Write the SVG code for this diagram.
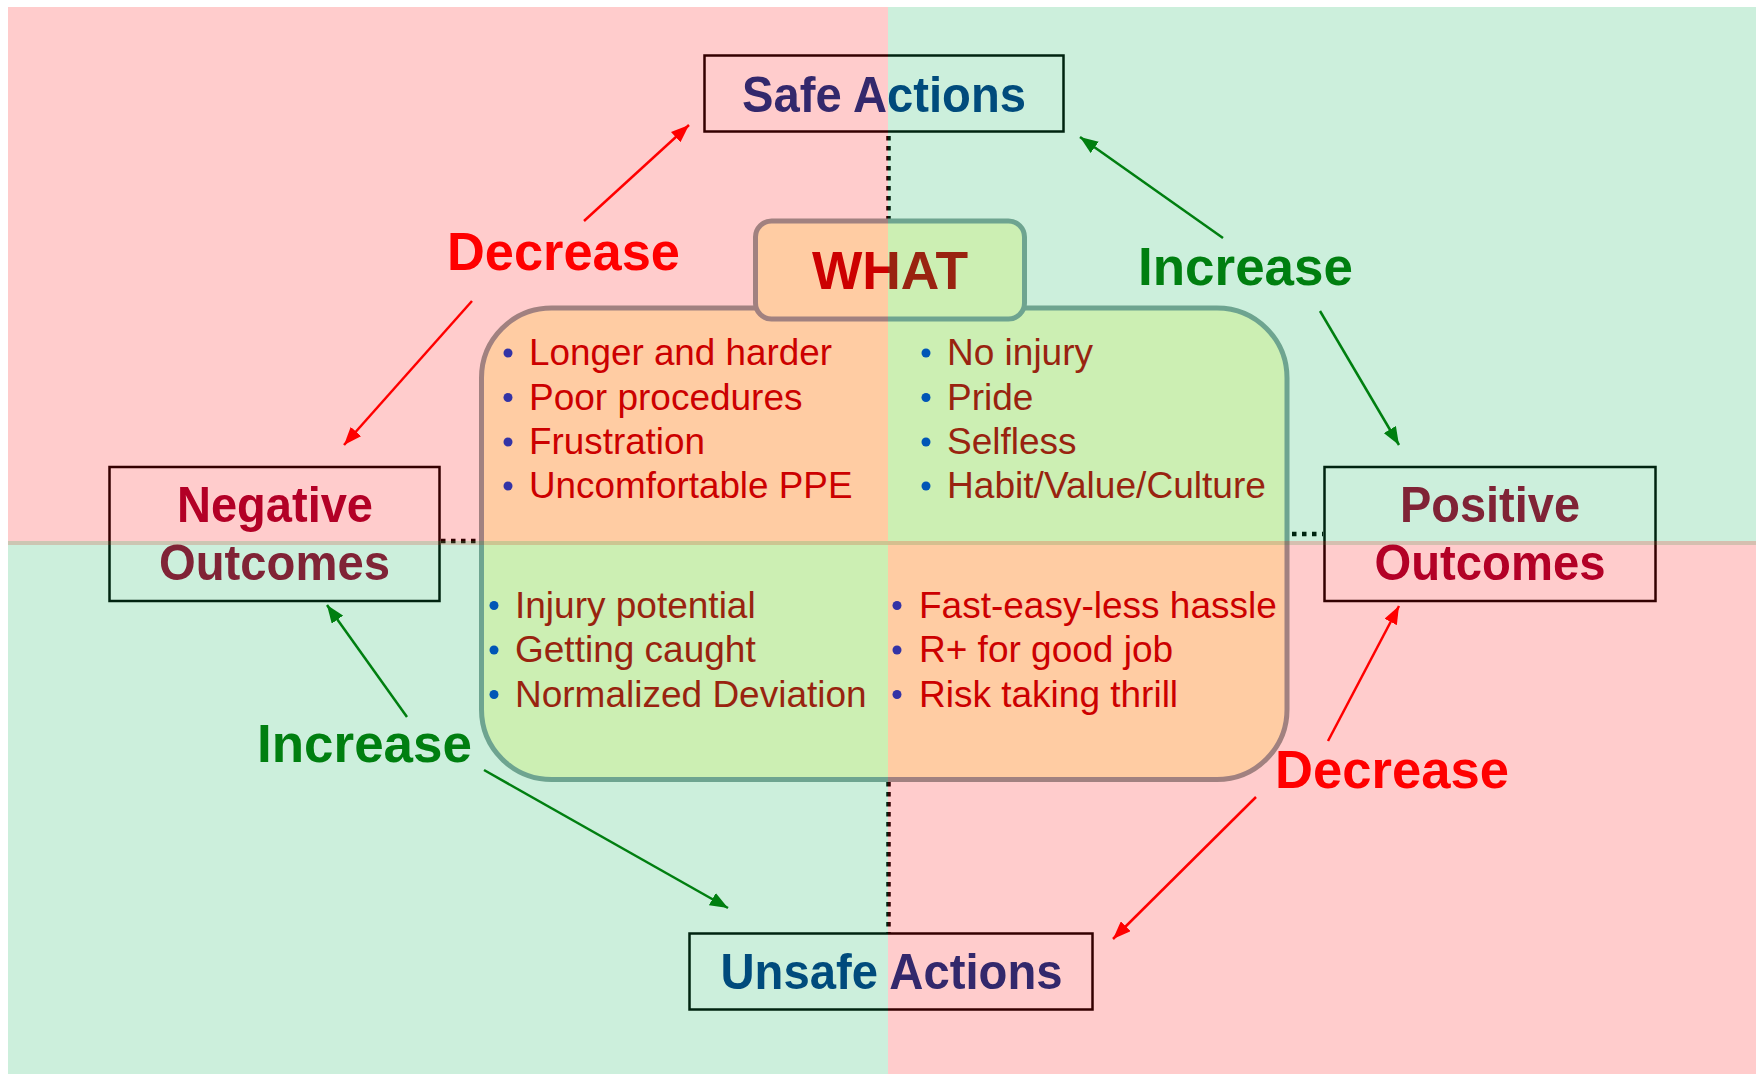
<svg xmlns="http://www.w3.org/2000/svg" width="1756" height="1074" viewBox="0 0 1756 1074">
<defs>
<style>
.lbl{font-family:"Liberation Sans",Arial,sans-serif;font-weight:bold;font-size:50px;text-anchor:middle}
.node{fill:#003388}
.out{fill:#A00030}
.box{fill:none;stroke:#000;stroke-width:2.5}
.blt{font-family:"Liberation Sans",Arial,sans-serif;font-size:37px;fill:#C00000}
.dot{fill:#0040D0}
.verb{font-family:"Liberation Sans",Arial,sans-serif;font-weight:bold;font-size:53px}
.dec{fill:#FF0000}
.inc{fill:#007300}
.ar{stroke-width:2.5;fill:none}
.ared{stroke:#FF0000}
.agrn{stroke:#007300}
.dots{stroke:#000;stroke-width:4.5;stroke-dasharray:4.5 5.5;fill:none}
.panel{fill:#FFFFCC;stroke:#8AA2A0;stroke-width:5}
.ov{pointer-events:none}
</style>
<marker id="mr" markerUnits="userSpaceOnUse" markerWidth="20" markerHeight="14" refX="18" refY="7" orient="auto"><path d="M0,0 L18,7 L0,14 Z" fill="#FF0000"/></marker>
<marker id="mg" markerUnits="userSpaceOnUse" markerWidth="20" markerHeight="14" refX="18" refY="7" orient="auto"><path d="M0,0 L18,7 L0,14 Z" fill="#007300"/></marker>
</defs>
<rect x="0" y="0" width="1756" height="1074" fill="#FFFFFF"/>

<g id="connectors">
<line class="dots" x1="888.5" y1="136" x2="888.5" y2="219"/>
<line class="dots" x1="888.5" y1="782" x2="888.5" y2="933"/>
<line class="dots" x1="441" y1="541" x2="479" y2="541"/>
<line class="dots" x1="1292" y1="534" x2="1323" y2="534"/>
<line class="ar ared" x1="584" y1="221" x2="689" y2="125" marker-end="url(#mr)"/>
<line class="ar ared" x1="472" y1="301" x2="344" y2="445" marker-end="url(#mr)"/>
<line class="ar agrn" x1="1223" y1="238" x2="1080" y2="137" marker-end="url(#mg)"/>
<line class="ar agrn" x1="1320" y1="311" x2="1399" y2="445" marker-end="url(#mg)"/>
<line class="ar agrn" x1="407" y1="717" x2="327" y2="605" marker-end="url(#mg)"/>
<line class="ar agrn" x1="484" y1="770" x2="728" y2="908" marker-end="url(#mg)"/>
<line class="ar ared" x1="1328" y1="741" x2="1399" y2="606" marker-end="url(#mr)"/>
<line class="ar ared" x1="1256" y1="797" x2="1113" y2="939" marker-end="url(#mr)"/>
<text class="verb dec" x="447" y="270" textLength="233" lengthAdjust="spacingAndGlyphs">Decrease</text>
<text class="verb inc" x="1138" y="285" textLength="215" lengthAdjust="spacingAndGlyphs">Increase</text>
<text class="verb inc" x="257" y="762" textLength="215" lengthAdjust="spacingAndGlyphs">Increase</text>
<text class="verb dec" x="1275" y="788" textLength="234" lengthAdjust="spacingAndGlyphs">Decrease</text>
</g>

<g id="what-panel">
<rect class="panel" x="481.5" y="308" width="805.5" height="471.5" rx="70" ry="70"/>
<g id="what-negative-of-safe">
<circle class="dot" cx="508" cy="353" r="4.5"/>
<circle class="dot" cx="508" cy="397.5" r="4.5"/>
<circle class="dot" cx="508" cy="442" r="4.5"/>
<circle class="dot" cx="508" cy="486" r="4.5"/>
<text class="blt" x="529" y="365" textLength="303" lengthAdjust="spacingAndGlyphs">Longer and harder</text>
<text class="blt" x="529" y="409.5" textLength="273.5" lengthAdjust="spacingAndGlyphs">Poor procedures</text>
<text class="blt" x="529" y="454" textLength="176" lengthAdjust="spacingAndGlyphs">Frustration</text>
<text class="blt" x="529" y="498" textLength="323.5" lengthAdjust="spacingAndGlyphs">Uncomfortable PPE</text>
</g>
<g id="what-positive-of-safe">
<circle class="dot" cx="926" cy="353" r="4.5"/>
<circle class="dot" cx="926" cy="397.5" r="4.5"/>
<circle class="dot" cx="926" cy="442" r="4.5"/>
<circle class="dot" cx="926" cy="486" r="4.5"/>
<text class="blt" x="947" y="365">No injury</text>
<text class="blt" x="947" y="409.5">Pride</text>
<text class="blt" x="947" y="454">Selfless</text>
<text class="blt" x="947" y="498" textLength="319" lengthAdjust="spacingAndGlyphs">Habit/Value/Culture</text>
</g>
<g id="what-negative-of-unsafe">
<circle class="dot" cx="494" cy="605.5" r="4.5"/>
<circle class="dot" cx="494" cy="650" r="4.5"/>
<circle class="dot" cx="494" cy="694.5" r="4.5"/>
<text class="blt" x="515" y="617.5">Injury potential</text>
<text class="blt" x="515" y="662">Getting caught</text>
<text class="blt" x="515" y="706.5">Normalized Deviation</text>
</g>
<g id="what-positive-of-unsafe">
<circle class="dot" cx="897" cy="605.5" r="4.5"/>
<circle class="dot" cx="897" cy="650" r="4.5"/>
<circle class="dot" cx="897" cy="694.5" r="4.5"/>
<text class="blt" x="919" y="617.5">Fast-easy-less hassle</text>
<text class="blt" x="919" y="662">R+ for good job</text>
<text class="blt" x="919" y="706.5">Risk taking thrill</text>
</g>
</g>

<g id="what-title">
<rect class="panel" x="755.5" y="221" width="269" height="98" rx="16" ry="16"/>
<text class="lbl" x="890" y="288.5" style="font-size:53px;fill:#C00000" textLength="156" lengthAdjust="spacingAndGlyphs">WHAT</text>
</g>

<g id="safe-actions">
<rect class="box" x="704.5" y="55.5" width="359" height="76"/>
<text class="lbl node" x="884" y="112" textLength="284" lengthAdjust="spacingAndGlyphs">Safe Actions</text>
</g>
<g id="unsafe-actions">
<rect class="box" x="689.5" y="933.5" width="403" height="76"/>
<text class="lbl node" x="891.5" y="989" textLength="342" lengthAdjust="spacingAndGlyphs">Unsafe Actions</text>
</g>
<g id="negative-outcomes">
<rect class="box" x="109.5" y="467" width="330" height="134"/>
<text class="lbl out" x="275" y="522" textLength="196" lengthAdjust="spacingAndGlyphs">Negative</text>
<text class="lbl out" x="274.5" y="580" textLength="231" lengthAdjust="spacingAndGlyphs">Outcomes</text>
</g>
<g id="positive-outcomes">
<rect class="box" x="1324.5" y="467" width="331" height="134"/>
<text class="lbl out" x="1490" y="522" textLength="180" lengthAdjust="spacingAndGlyphs">Positive</text>
<text class="lbl out" x="1490" y="580" textLength="231" lengthAdjust="spacingAndGlyphs">Outcomes</text>
</g>

<g id="quadrant-tint" class="ov">
<rect x="8" y="7" width="880" height="538" fill="#FF0000" fill-opacity="0.2"/>
<rect x="888" y="7" width="868" height="538" fill="#00B050" fill-opacity="0.2"/>
<rect x="8" y="541" width="880" height="533" fill="#00B050" fill-opacity="0.2"/>
<rect x="888" y="541" width="868" height="533" fill="#FF0000" fill-opacity="0.2"/>
</g>
</svg>
